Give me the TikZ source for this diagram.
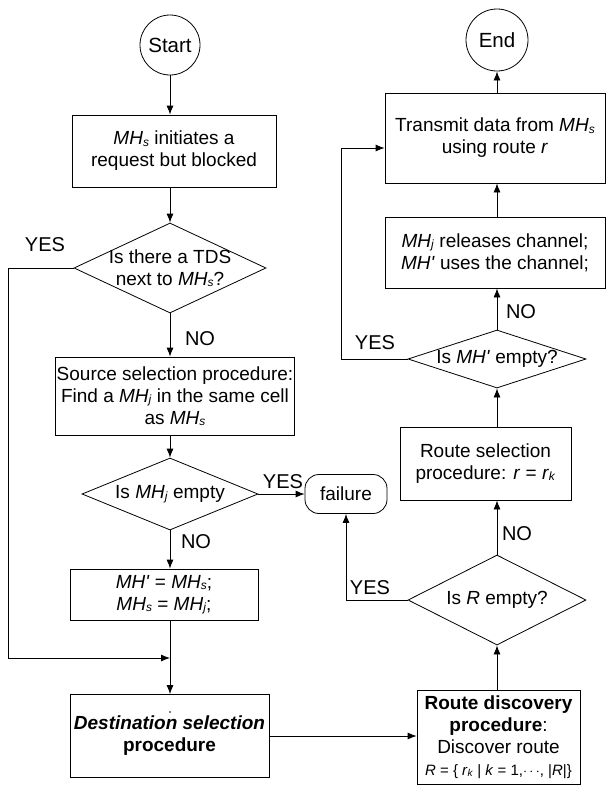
\documentclass[tikz,border=0pt]{standalone}
\usepackage{fontspec}
\setmainfont{Liberation Sans}
\usetikzlibrary{shapes.geometric,arrows.meta}
\newcommand\fsz{\fontsize{19}{22}\selectfont}
\newcommand\mhsub[1]{\textit{MH}\raisebox{-1.5pt}{\fontsize{12}{12}\selectfont\textit{#1}}}
\newcommand\mhp{\textit{MH\textquotesingle}}
\begin{document}
\begin{tikzpicture}[x=1pt,y=-1pt,
  every node/.style={font=\fsz},
  box/.style={draw, line width=0.8pt, inner sep=1pt, align=center},
  circ/.style={draw, circle, line width=0.8pt, inner sep=0pt, font=\fontsize{20.5}{22}\selectfont},
  dia/.style={draw, diamond, line width=0.8pt, inner sep=0pt},
  fl/.style={draw, rounded corners=14pt, line width=0.8pt, inner sep=0pt},
  txt/.style={align=center, inner sep=0pt},
  lab/.style={inner sep=0pt, font=\fontsize{20}{22}\selectfont},
  arr/.style={-{Latex[length=9pt,width=7pt]}, line width=0.8pt},
  ln/.style={line width=0.8pt}]
\useasboundingbox (0,0) rectangle (606,785);
% left column
\node[circ, minimum size=60] (start) at (170,45) {Start};
\node[box, minimum width=204, minimum height=72] (b1) at (174,151) {\mhsub{s} initiates a\\request but blocked};
\node[dia, minimum width=192, minimum height=90] (d1) at (170,268) {};
\node[txt] (d1t) at (d1) {Is there a TDS\\next to \mhsub{s}?};
\node[box, minimum width=234, minimum height=78] (b2) at (175,396) {Source selection procedure:\\Find a \mhsub{j} in the same cell\\as \mhsub{s}};
\node[dia, minimum width=176, minimum height=72] (d2) at (170,494) {};
\node[txt] (d2t) at (d2) {Is \mhsub{j} empty};
\node[fl, minimum width=82, minimum height=39] (fail) at (346,494) {failure};
\node[box, minimum width=188, minimum height=51] (b3) at (164,594.5) {\mhp{} = \mhsub{s};\\\mhsub{s} = \mhsub{j};};
\coordinate (j) at (170,658);
\node[box, minimum width=199, minimum height=83] (b4) at (169.5,736) {\textbf{\textit{Destination selection}}\\\textbf{procedure}};
\fill (170,712) circle (0.9);
% right column
\node[circ, minimum size=62] (end) at (497,40) {End};
\node[box, minimum width=220, minimum height=90] (tx) at (495,138) {Transmit data from \mhsub{s}\\using route \textit{r}};
\node[box, minimum width=220, minimum height=71] (rel) at (495,252.5) {\mhsub{j} releases channel;\\\mhp{} uses the channel;};
\node[dia, minimum width=178, minimum height=58] (d3) at (497,359) {};
\node[txt] (d3t) at (d3) {Is \mhp{} empty?};
\node[box, minimum width=171, minimum height=73] (rs) at (485.5,463.5) {Route selection\\procedure: \textit{r} = \textit{r}\raisebox{-1.5pt}{\fontsize{12}{12}\selectfont\textit{k}}};
\node[dia, minimum width=178, minimum height=90] (d4) at (497,600) {};
\node[txt] (d4t) at (d4) {Is \textit{R} empty?};
\node[box, minimum width=163, minimum height=94] (rd) at (498.5,737) {\textbf{Route discovery}\\\textbf{procedure}:\\Discover route\\{\fontsize{15}{17}\selectfont\textit{R} = \{ \textit{r}\raisebox{-1pt}{\fontsize{10}{10}\selectfont\textit{k}} | \textit{k} = 1,$\cdots$, |\textit{R}|\}}};
% connectors left
\draw[arr] (start) -- (start |- b1.north);
\draw[arr] (b1.south -| d1) -- (d1.north);
\draw[arr] (d1.south) -- (d1.south |- b2.north);
\draw[arr] (b2.south -| d2) -- (d2.north);
\draw[arr] (d2.east) -- (fail.west);
\draw[arr] (d2.south) -- (d2.south |- b3.north);
\draw[ln] (b3.south -| j) -- (j);
\draw[arr] (j) -- (j |- b4.north);
\coordinate (c1) at (8,268);
\draw[arr] (d1.west) -- (c1) |- (j);
\draw[arr] (b4.east) -- (b4.east -| rd.west);
% connectors right
\draw[arr] (rd.north -| d4) -- (d4.south);
\draw[arr] (d4.west) -| (fail.south);
\draw[arr] (d4.north) -- (d4.north |- rs.south);
\draw[arr] (rs.north -| d3) -- (d3.south);
\draw[arr] (d3.north) -- (d3.north |- rel.south);
\coordinate (c2) at (341,359);
\coordinate (c3) at (341,148);
\draw[arr] (d3.west) -- (c2) -- (c3) -- (c3 -| tx.west);
\draw[arr] (rel.north -| end) -- (tx.south -| end);
\draw[arr] (tx.north -| end) -- (end.south);
% labels
\node[lab] (y1) at (45,245) {YES};
\node[lab] (n1) at (200,339) {NO};
\node[lab] (y2) at (283,482) {YES};
\node[lab] (n2) at (196,542) {NO};
\node[lab] (y3) at (375,343) {YES};
\node[lab] (n3) at (521,312) {NO};
\node[lab] (y4) at (370,588) {YES};
\node[lab] (n4) at (517,534) {NO};
\end{tikzpicture}
\end{document}
